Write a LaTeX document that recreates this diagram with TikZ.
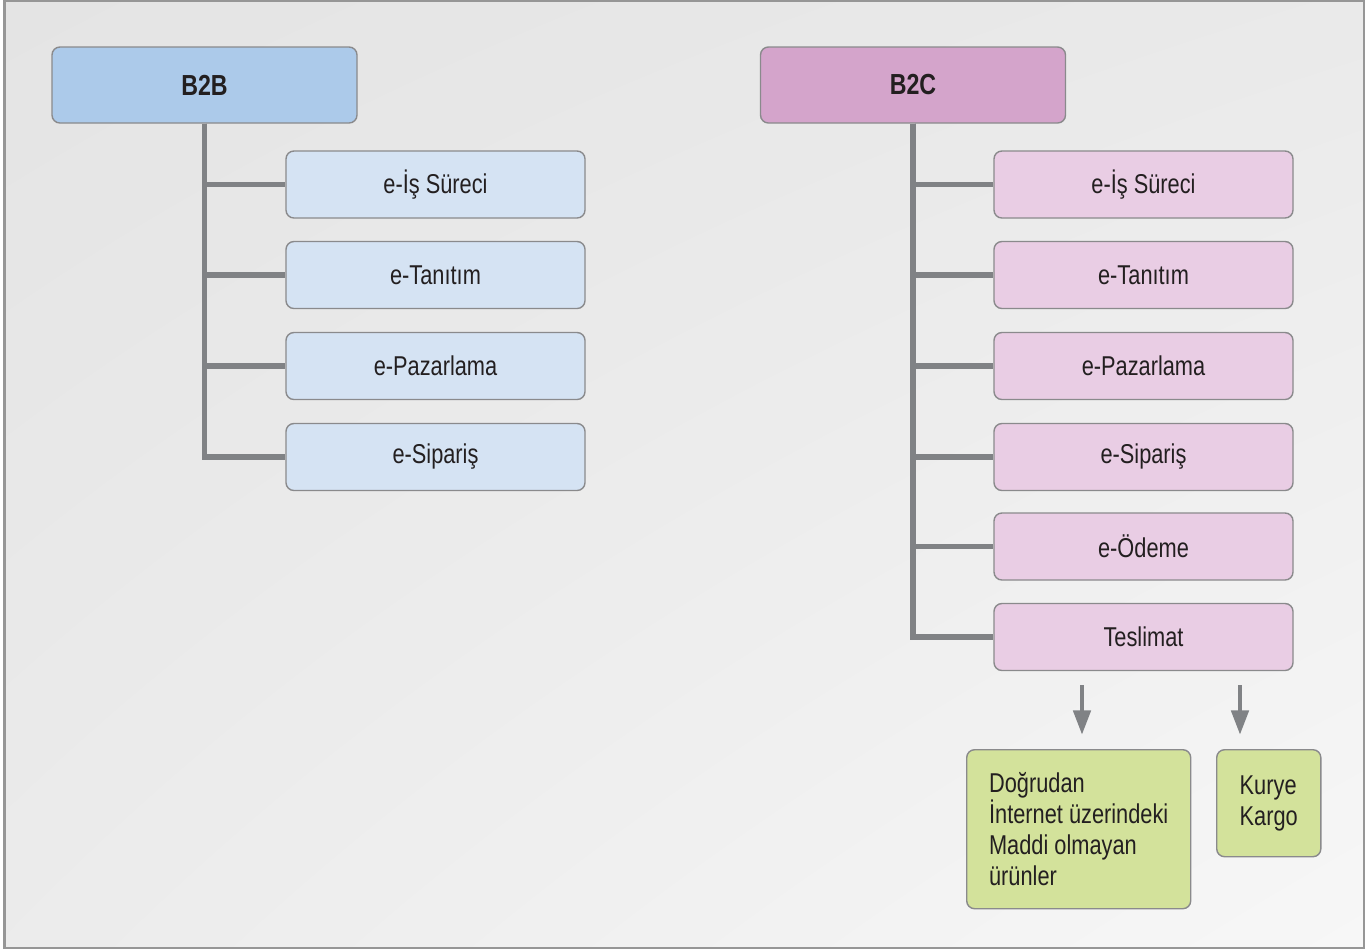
\documentclass[tikz,border=0pt]{standalone}
\usepackage{fontspec}
\setmainfont[FakeStretch=0.8]{Liberation Sans}
\usepackage{tikz}
\usetikzlibrary{arrows.meta,calc,shadings}
\definecolor{bgdark}{RGB}{228,228,228}
\definecolor{bglight}{RGB}{247,247,247}
\definecolor{framegray}{RGB}{150,150,150}
\definecolor{linegray}{RGB}{128,130,133}
\definecolor{edgegray}{RGB}{138,138,140}
\definecolor{textdark}{RGB}{35,31,32}
\definecolor{btobhead}{RGB}{172,202,234}
\definecolor{btobitem}{RGB}{213,227,243}
\definecolor{btochead}{RGB}{212,164,203}
\definecolor{btocitem}{RGB}{233,205,228}
\definecolor{kanalgreen}{RGB}{211,226,155}

\tikzset{
  headbox/.style={draw=edgegray,line width=0.8pt,rounded corners=4.5pt,
    minimum width=305*0.02cm,minimum height=76*0.02cm,inner sep=0pt,
    font=\fontsize{16.5}{19}\selectfont\bfseries,text=textdark},
  itembox/.style={draw=edgegray,line width=0.8pt,rounded corners=4.5pt,
    minimum width=299*0.02cm,minimum height=67*0.02cm,inner sep=0pt,
    font=\fontsize{15.5}{18}\selectfont,text=textdark},
  kanalbox/.style={draw=edgegray,line width=0.8pt,rounded corners=4.5pt,
    fill=kanalgreen,anchor=north west,align=left,
    font=\fontsize{15.5}{17.6}\selectfont,text=textdark},
  branch/.style={linegray,line width=3pt,line join=miter},
  downarrow/.style={linegray,line width=2.8pt,-{Triangle[length=14pt,width=9.6pt]}}
}

\begin{document}
\begin{tikzpicture}[x=0.02cm,y=-0.02cm]
    % Background and frame
    \useasboundingbox (0,0) rectangle (1367,951);
    \fill[white] (0,0) rectangle (1367,951);
    \shade[upper left=bgdark,upper right=bgdark!70!bglight,lower left=bgdark!60!bglight,lower right=bglight]
        (4.5,0.5) rectangle (1364,948);
    \draw[framegray,line width=1.2pt] (4.5,0.5) rectangle (1364,948);

    % B2B side
    \node[headbox,fill=btobhead] (b2b) at (204.5,85) {B2B};
    \node[itembox,fill=btobitem] (b2b1) at (435.5,184.5) {e-İş Süreci};
    \node[itembox,fill=btobitem] (b2b2) at (435.5,275) {e-Tanıtım};
    \node[itembox,fill=btobitem] (b2b3) at (435.5,366) {e-Pazarlama};
    \node[itembox,fill=btobitem] (b2b4) at (435.5,457) {e-Sipariş};
    \foreach \i in {1,...,4}
        \draw[branch] (b2b.south) |- (b2b\i.west);

    % B2C side
    \node[headbox,fill=btochead] (b2c) at (913,85) {B2C};
    \node[itembox,fill=btocitem] (b2c1) at (1143.5,184.5) {e-İş Süreci};
    \node[itembox,fill=btocitem] (b2c2) at (1143.5,275) {e-Tanıtım};
    \node[itembox,fill=btocitem] (b2c3) at (1143.5,366) {e-Pazarlama};
    \node[itembox,fill=btocitem] (b2c4) at (1143.5,457) {e-Sipariş};
    \node[itembox,fill=btocitem] (b2c5) at (1143.5,546.5) {e-Ödeme};
    \node[itembox,fill=btocitem] (b2c6) at (1143.5,637) {Teslimat};
    \foreach \i in {1,...,6}
        \draw[branch] (b2c.south) |- (b2c\i.west);

    % Delivery channels
    \node[kanalbox,minimum width=224*0.02cm,minimum height=159*0.02cm,
          inner xsep=21*0.02cm] (dogrudan) at (966,749)
        {Doğrudan\\İnternet üzerindeki\\Maddi olmayan\\ürünler};
    \node[kanalbox,minimum width=104*0.02cm,minimum height=107*0.02cm,
          inner xsep=23*0.02cm] (kurye) at (1216,749)
        {Kurye\\Kargo};
    \coordinate (ok1) at (1082,671);
    \coordinate (ok2) at (1240,671);
    \draw[downarrow,shorten <=14*0.02cm,shorten >=14*0.02cm] (ok1) -- (ok1 |- dogrudan.north);
    \draw[downarrow,shorten <=14*0.02cm,shorten >=14*0.02cm] (ok2) -- (ok2 |- kurye.north);
\end{tikzpicture}
\end{document}
